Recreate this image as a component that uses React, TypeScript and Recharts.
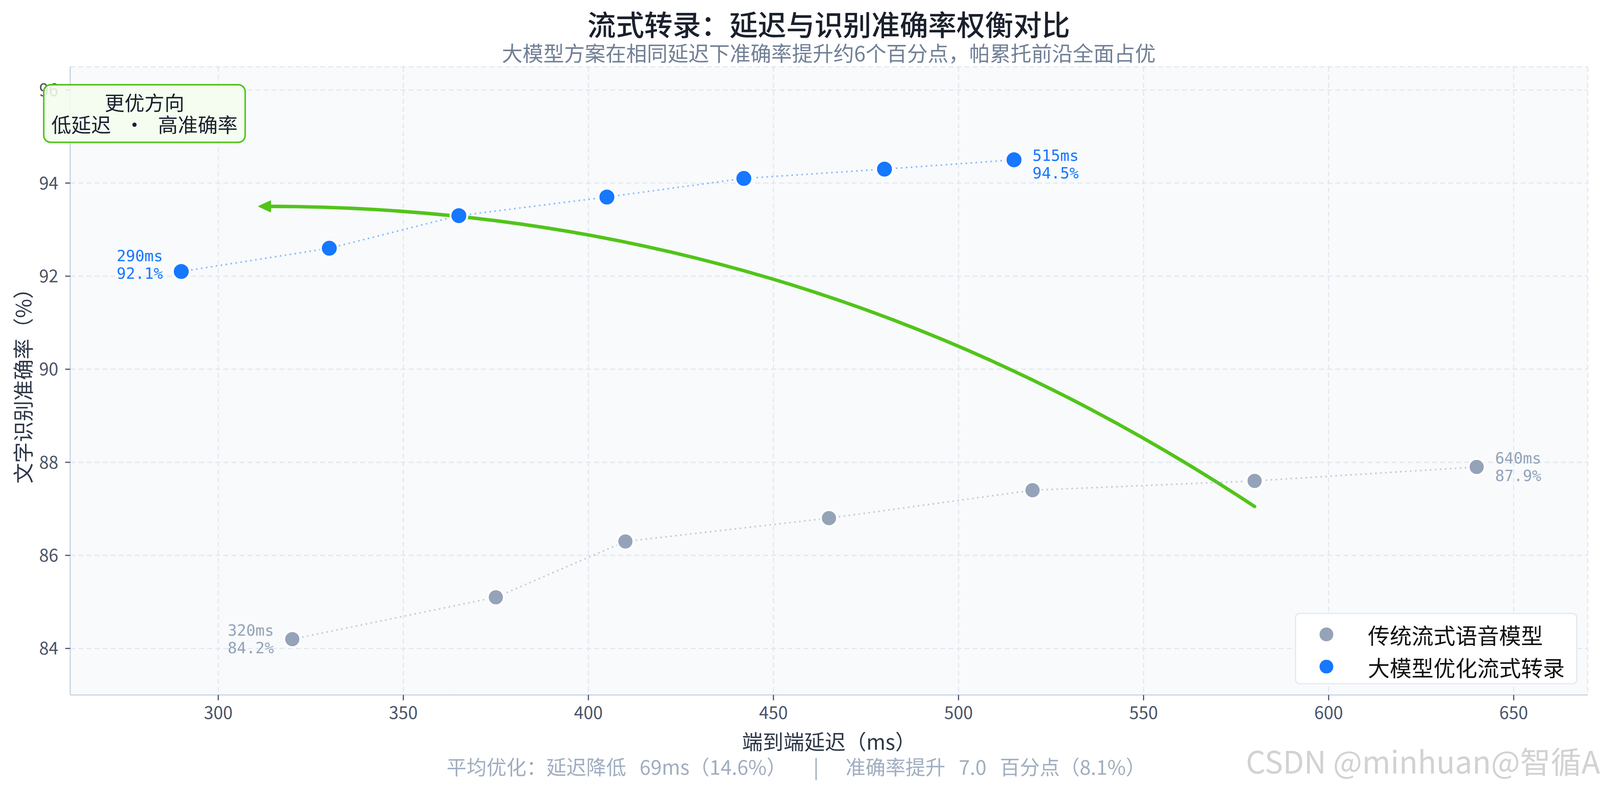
import React from "react";
import {
  ScatterChart,
  Scatter,
  XAxis,
  YAxis,
  CartesianGrid,
  Legend,
  ReferenceLine,
} from "recharts";

const W = 4170;
const H = 2059;
const FONT = '"Noto Sans CJK SC", "Noto Sans", sans-serif';
const MONO = '"DejaVu Sans Mono", monospace';

// 传统流式语音模型
const baseLatency = [320, 375, 410, 465, 520, 580, 640];
const baseAccuracy = [84.2, 85.1, 86.3, 86.8, 87.4, 87.6, 87.9];
// 大模型优化流式转录
const llmLatency = [290, 330, 365, 405, 442, 480, 515];
const llmAccuracy = [92.1, 92.6, 93.3, 93.7, 94.1, 94.3, 94.5];

const xTicks = [300, 350, 400, 450, 500, 550, 600, 650];
const yTicks = [84, 86, 88, 90, 92, 94, 96];
const xDomain = [260, 670];
const yDomain = [83, 96.5];

// "better direction" arrow, tail -> head, in data units
const arrowFrom = { latency: 580, accuracy: 87.05 };
const arrowTo = { latency: 311, accuracy: 93.5 };

const baseData = baseLatency.map((latency, i) => ({ latency, accuracy: baseAccuracy[i] }));
const llmData = llmLatency.map((latency, i) => ({ latency, accuracy: llmAccuracy[i] }));

const GRAY = "#94a3b8";
const BLUE = "#1677ff";
const GREEN = "#52c41a";
const GRID = "#e2e8f0";
const SPINE = "#cbd5e0";
const TICK_TXT = "#4a5568";

// point + endpoint annotation (first point labelled on the left, last on the right)
function makePoint(color: string, r: number, lats: number[], shiftL: number, shiftR: number) {
  const first = lats[0];
  const last = lats[lats.length - 1];
  return (props: any) => {
    const { cx, cy, payload } = props;
    if (cx == null || cy == null) return null;
    const isFirst = payload.latency === first;
    const isLast = payload.latency === last;
    let label = null;
    if (isFirst || isLast) {
      const shift = isFirst ? shiftL : shiftR;
      const tx = isFirst ? cx - 48 : cx + 48;
      const anchor = isFirst ? "end" : "start";
      label = (
        <g fontFamily={MONO} fontSize={40} fill={color} textAnchor={anchor}>
          <text x={tx} y={cy - 23 + shift} dominantBaseline="central">{`${payload.latency}ms`}</text>
          <text x={tx} y={cy + 23 + shift} dominantBaseline="central">{`${payload.accuracy.toFixed(1)}%`}</text>
        </g>
      );
    }
    return (
      <g>
        <circle cx={cx} cy={cy} r={r} fill={color} stroke="#ffffff" strokeWidth={5} />
        {label}
      </g>
    );
  };
}

// matplotlib-style arc3 arrow
const ARROW_RAD = 0.15;
function CurvedArrow(props: any) {
  const { x1, y1, x2, y2 } = props;
  if ([x1, y1, x2, y2].some((v) => v == null || isNaN(v))) return null;
  const dx = x2 - x1;
  const dy = y2 - y1;
  const qx = (x1 + x2) / 2 - ARROW_RAD * dy;
  const qy = (y1 + y2) / 2 + ARROW_RAD * dx;
  const tx = x2 - qx;
  const ty = y2 - qy;
  const len = Math.hypot(tx, ty);
  const ux = tx / len;
  const uy = ty / len;
  const L = 30;
  const hw = 14;
  const bx = x2 - ux * L;
  const by = y2 - uy * L;
  const head = `M${x2},${y2} L${bx - uy * hw},${by + ux * hw} L${bx + uy * hw},${by - ux * hw} Z`;
  return (
    <g>
      <path
        d={`M${x1},${y1} Q${qx},${qy} ${bx + ux * 4},${by + uy * 4}`}
        fill="none"
        stroke={GREEN}
        strokeWidth={9}
        strokeLinecap="round"
      />
      <path d={head} fill={GREEN} stroke={GREEN} strokeWidth={3} strokeLinejoin="round" />
    </g>
  );
}

function LegendBox(props: any) {
  const items = props.payload || [];
  return (
    <div
      style={{
        boxSizing: "border-box",
        width: 736,
        height: 186,
        background: "rgba(255,255,255,0.9)",
        border: `3px solid ${GRID}`,
        borderRadius: 12,
        paddingTop: 11,
        paddingLeft: 61,
        fontFamily: FONT,
      }}
    >
      {items.map((it: any) => (
        <div key={it.value} style={{ display: "flex", alignItems: "center", height: 84 }}>
          <svg width={36} height={36} style={{ display: "block" }}>
            <circle cx={18} cy={18} r={18} fill={it.color} />
          </svg>
          <span style={{ marginLeft: 90, fontSize: 57, lineHeight: "84px", color: "#111111" }}>
            {it.value}
          </span>
        </div>
      ))}
    </div>
  );
}

const yLabel = (p: any) => {
  const vb = p.viewBox || { x: 33, y: 174, width: 150, height: 1638 };
  const cx = vb.x + 25;
  const cy = vb.y + vb.height / 2;
  return (
    <text
      x={cx}
      y={cy}
      transform={`rotate(-90 ${cx} ${cy})`}
      textAnchor="middle"
      dominantBaseline="central"
      fill="#2d3748"
      fontSize={54}
      fontFamily={FONT}
    >
      文字识别准确率（%）
    </text>
  );
};

const xLabel = (p: any) => {
  const vb = p.viewBox || { x: 183, y: 1812, width: 3955, height: 150 };
  return (
    <text
      x={vb.x + vb.width / 2}
      y={vb.y + 119}
      textAnchor="middle"
      dominantBaseline="central"
      fill="#2d3748"
      fontSize={54}
      fontFamily={FONT}
    >
      端到端延迟（ms）
    </text>
  );
};

function fitScale() {
  if (typeof window === "undefined") return 1;
  const s = Math.min(window.innerWidth / W, window.innerHeight / H);
  if (!isFinite(s) || s <= 0) return 1;
  return Math.max(0.5, Math.min(1, s));
}

export default function App() {
  const s = fitScale();
  return (
    <div style={{ width: W * s, height: H * s, overflow: "hidden" }}>
      <style>{"html,body{margin:0;overflow:hidden}"}</style>
      <div
        style={{
          position: "relative",
          width: W,
          height: H,
          background: "#ffffff",
          fontFamily: FONT,
          transform: `scale(${s})`,
          transformOrigin: "0 0",
        }}
      >
        <ScatterChart width={W} height={H} margin={{ top: 174, right: 32, bottom: 97, left: 33 }}>
          <CartesianGrid fill="#f8fafc" stroke={GRID} strokeWidth={3} strokeDasharray="13 8" />
          <XAxis
            type="number"
            dataKey="latency"
            domain={xDomain}
            ticks={xTicks}
            interval={0}
            allowDataOverflow
            height={150}
            tickSize={14}
            tickMargin={16}
            tick={{ fill: TICK_TXT, fontSize: 45, fontFamily: FONT }}
            tickLine={{ stroke: TICK_TXT, strokeWidth: 3 }}
            axisLine={{ stroke: SPINE, strokeWidth: 3 }}
            label={{ content: xLabel }}
          />
          <YAxis
            type="number"
            dataKey="accuracy"
            domain={yDomain}
            ticks={yTicks}
            interval={0}
            allowDataOverflow
            width={150}
            tickSize={13}
            tickMargin={18}
            tick={{ fill: TICK_TXT, fontSize: 45, fontFamily: FONT }}
            tickLine={{ stroke: TICK_TXT, strokeWidth: 3 }}
            axisLine={{ stroke: SPINE, strokeWidth: 3 }}
            label={{ content: yLabel }}
          />
          <ReferenceLine
            segment={[
              { x: arrowFrom.latency, y: arrowFrom.accuracy },
              { x: arrowTo.latency, y: arrowTo.accuracy },
            ]}
            shape={CurvedArrow}
          />
          <Scatter
            name="传统流式语音模型"
            data={baseData}
            fill={GRAY}
            line={{ stroke: GRAY, strokeWidth: 4, strokeDasharray: "4 9", strokeOpacity: 0.55 }}
            shape={makePoint(GRAY, 21, baseLatency, 0, 0)}
            isAnimationActive={false}
          />
          <Scatter
            name="大模型优化流式转录"
            data={llmData}
            fill={BLUE}
            line={{ stroke: BLUE, strokeWidth: 4, strokeDasharray: "4 9", strokeOpacity: 0.5 }}
            shape={makePoint(BLUE, 22, llmLatency, -18, 12)}
            isAnimationActive={false}
          />
          <Legend
            layout="vertical"
            align="center"
            verticalAlign="middle"
            content={LegendBox}
            wrapperStyle={{ left: 3375, top: 1598, width: 736, height: 186 }}
          />
        </ScatterChart>

        <div
          style={{
            position: "absolute",
            left: 0,
            width: 4320,
            top: 24,
            textAlign: "center",
            fontSize: 74,
            lineHeight: "74px",
            fontWeight: 500,
            color: "#1a202c",
            whiteSpace: "nowrap",
          }}
        >
          流式转录：延迟与识别准确率权衡对比
        </div>
        <div
          style={{
            position: "absolute",
            left: 0,
            width: 4320,
            top: 110,
            textAlign: "center",
            fontSize: 54,
            lineHeight: "54px",
            color: "#718096",
            whiteSpace: "nowrap",
          }}
        >
          大模型方案在相同延迟下准确率提升约6个百分点，帕累托前沿全面占优
        </div>

        <div
          style={{
            position: "absolute",
            left: 112,
            top: 219,
            width: 529,
            height: 154,
            boxSizing: "border-box",
            border: `4px solid ${GREEN}`,
            borderRadius: 20,
            background: "rgba(243,253,238,0.88)",
            paddingTop: 14,
            textAlign: "center",
            fontSize: 52,
            lineHeight: "57px",
            color: "#1a202c",
            whiteSpace: "pre",
          }}
        >
          <div>更优方向</div>
          <div>低延迟   ·   高准确率</div>
        </div>

        <div
          style={{
            position: "absolute",
            left: 0,
            width: 4150,
            top: 1972,
            textAlign: "center",
            fontSize: 52,
            lineHeight: "52px",
            color: "#a0aec0",
            whiteSpace: "pre",
          }}
        >
          {"平均优化：延迟降低   69ms（14.6%）      |      准确率提升   7.0   百分点（8.1%）"}
        </div>

        <div
          style={{
            position: "absolute",
            left: 3247,
            top: 1942,
            fontSize: 80,
            lineHeight: "80px",
            color: "#d2d2d2",
            whiteSpace: "nowrap",
          }}
        >
          CSDN @minhuan@智循AI
        </div>
      </div>
    </div>
  );
}
